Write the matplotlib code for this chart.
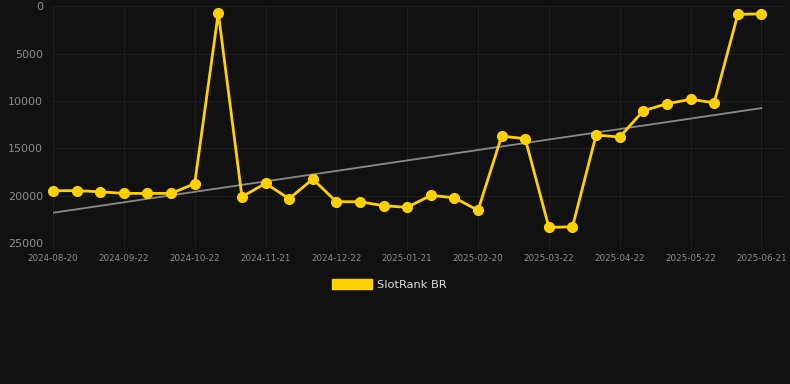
import numpy as np
import matplotlib
matplotlib.use("Agg")
from matplotlib import pyplot as plt
from matplotlib.patches import Patch

# rank values, one every ~10 days (category axis, every 3rd labelled)
ranks = [19460, 19450, 19570, 19740, 19740, 19740, 18720, 700, 20090, 18690,
         20300, 18230, 20620, 20620, 21040, 21210, 19950, 20200, 21530, 13700,
         13980, 23320, 23260, 13590, 13800, 11030, 10290, 9830, 10190, 880, 810]
tick_labels = ["2024-08-20", "2024-09-22", "2024-10-22", "2024-11-21", "2024-12-22",
               "2025-01-21", "2025-02-20", "2025-03-22", "2025-04-22", "2025-05-22",
               "2025-06-21"]
series_name = "SlotRank BR"

bg = "#111111"
gold = "#FFD100"

fig = plt.figure(figsize=(7.9, 3.84), dpi=100, facecolor=bg)
ax = fig.add_axes([53 / 790, 0.3664, 732 / 790, 0.6177], facecolor=bg)

x = np.arange(len(ranks))
ax.plot(x, ranks, color=gold, lw=2.0, marker="o", ms=7.0, zorder=3, clip_on=False)

# linear trend line
k, b = np.polyfit(x, ranks, 1)
ax.plot(x, k * x + b, color="#8a8a8a", lw=1.3, zorder=2)

ax.set_ylim(25000, 0)
ax.set_xlim(0, 31.0)
ax.set_yticks([0, 5000, 10000, 15000, 20000, 25000])
ax.set_xticks(x[::3])
ax.set_xticklabels(tick_labels)

ax.grid(True, color="#1e1e1e", lw=0.8)
ax.tick_params(axis="y", colors="#8c8c8c", labelsize=8, length=0, pad=7)
ax.tick_params(axis="x", colors="#8c8c8c", labelsize=6.3, length=4, color="#1e1e1e",
               pad=4)
for s in ax.spines.values():
    s.set_visible(False)

fig.legend(handles=[Patch(facecolor=gold, edgecolor=gold)], labels=[series_name],
           loc="center", bbox_to_anchor=(0.493, 0.26), frameon=False,
           fontsize=8.2, labelcolor="#dddddd", handlelength=3.5, handleheight=1.0,
           handletextpad=0.5)

fig.savefig("out.png", dpi=100, facecolor=bg)
